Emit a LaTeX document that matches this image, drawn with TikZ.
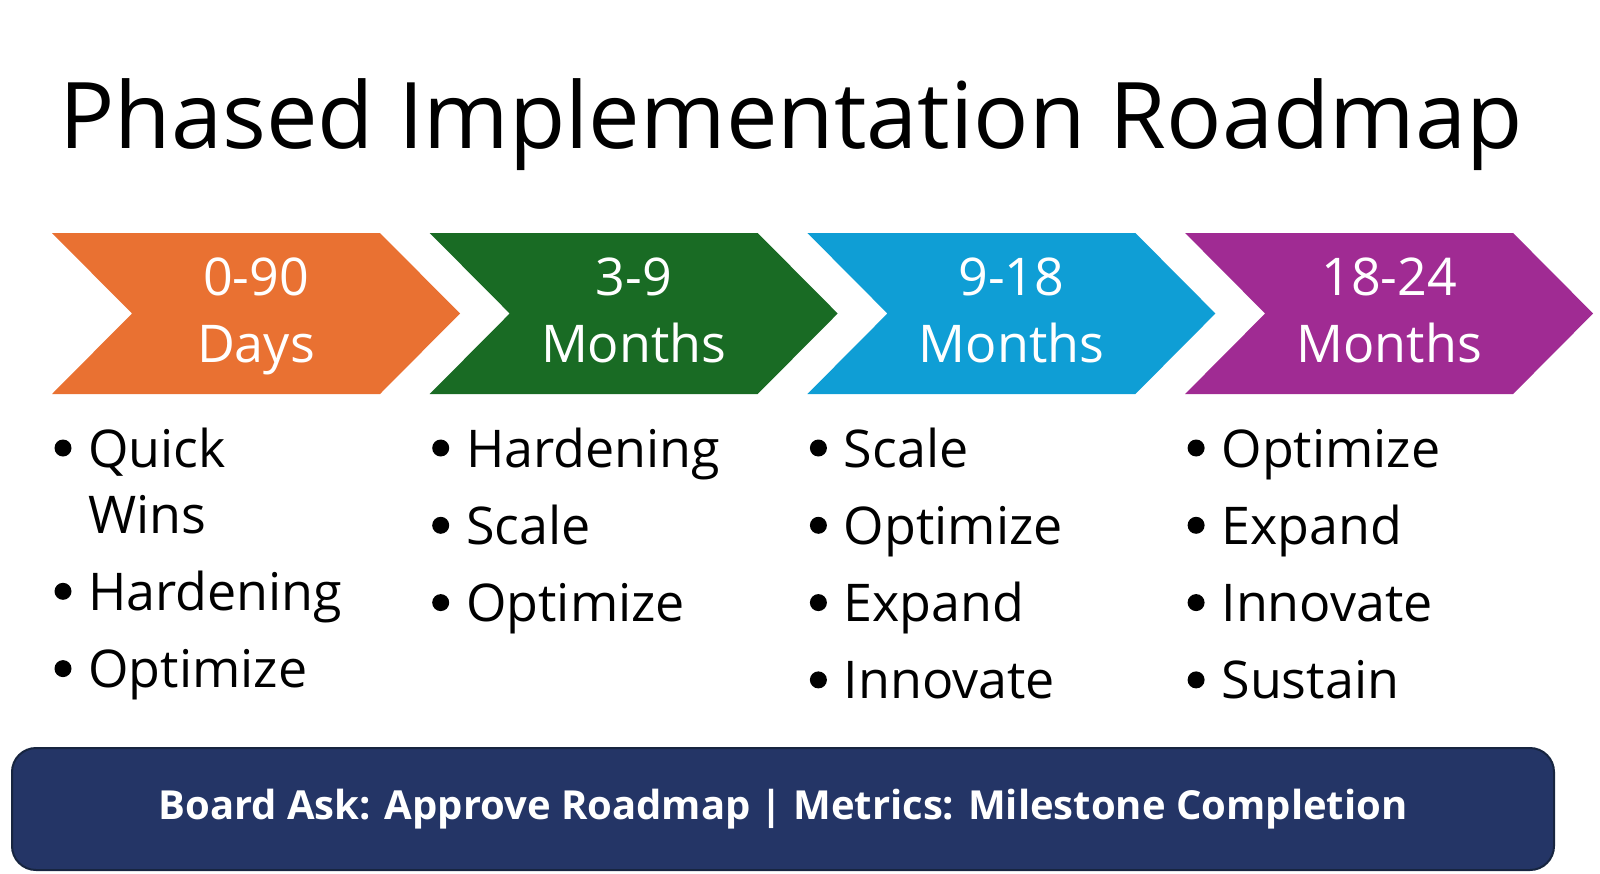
\documentclass[tikz,border=0pt]{standalone}
\usepackage{fontspec}
\setmainfont{Open Sans}
\usetikzlibrary{calc}

\definecolor{phaseorange}{HTML}{E97132}
\definecolor{phasegreen}{HTML}{196B24}
\definecolor{phaseblue}{HTML}{0F9ED5}
\definecolor{phasepurple}{HTML}{A02B93}
\definecolor{barnavy}{HTML}{243566}
\definecolor{barborder}{HTML}{172540}

\begin{document}
\begin{tikzpicture}[x=0.5pt,y=-0.5pt,
    phaselabel/.style={text=white,font=\fontsize{26}{26}\selectfont,anchor=base,inner sep=0pt},
    itemtext/.style={font=\fontsize{26}{26}\selectfont,anchor=base west,inner sep=0pt},
    dot/.style={fill=black}]
    \useasboundingbox (0,0) rectangle (1600,873);
    \node[anchor=base,inner sep=0pt,font=\fontsize{46}{46}\selectfont] (title) at (791,148) {Phased Implementation Roadmap};
    % chevrons
    \foreach \i/\col/\top/\bot in {0/phaseorange/0-90/Days,1/phasegreen/3-9/Months,2/phaseblue/9-18/Months,3/phasepurple/18-24/Months}
    {
        \coordinate (c\i) at (52+\i*377.7,233);
        \fill[\col] (c\i) -- ++(328,0) -- ++(80,80.5) -- ++(-80,80.5) -- ++(-328,0) -- ++(80,-80.5) -- cycle;
        \node[phaselabel] (top\i) at ($(c\i)+(204,62)$) {\top};
        \node[phaselabel] (bot\i) at ($(c\i)+(204,129)$) {\bot};
    }
    % first column, one item on two lines
    \fill[dot] (63,448) circle (8.5);
    \node[itemtext] (b0-0) at (88,467) {Quick};
    \node[itemtext] (b0-0b) at (88,533) {Wins};
    \foreach \t [count=\n from 1] in {Hardening,Optimize}
    {
        \fill[dot] (63,533-19+\n*77.3) circle (8.5);
        \node[itemtext] (b0-\n) at (88,533+\n*77.3) {\t};
    }
    \foreach \t [count=\n from 0] in {Hardening,Scale,Optimize}
    {
        \fill[dot] (63+377.7,448+\n*77.3) circle (8.5);
        \node[itemtext] (b1-\n) at (88+377.7,467+\n*77.3) {\t};
    }
    \foreach \t [count=\n from 0] in {Scale,Optimize,Expand,Innovate}
    {
        \fill[dot] (63+2*377.7,448+\n*77.3) circle (8.5);
        \node[itemtext] (b2-\n) at (88+2*377.7,467+\n*77.3) {\t};
    }
    \foreach \t [count=\n from 0] in {Optimize,Expand,Innovate,Sustain}
    {
        \fill[dot] (63+3*377.7,448+\n*77.3) circle (8.5);
        \node[itemtext] (b3-\n) at (88+3*377.7,467+\n*77.3) {\t};
    }
    % board ask bar
    \node[draw=barborder,fill=barnavy,line width=1pt,rounded corners=12pt,minimum width=771pt,minimum height=61pt,
        text=white,font=\bfseries\fontsize{20}{20}\selectfont] (bar) at (783,809)
        {Board Ask: Approve Roadmap | Metrics: Milestone Completion};
\end{tikzpicture}
\end{document}
